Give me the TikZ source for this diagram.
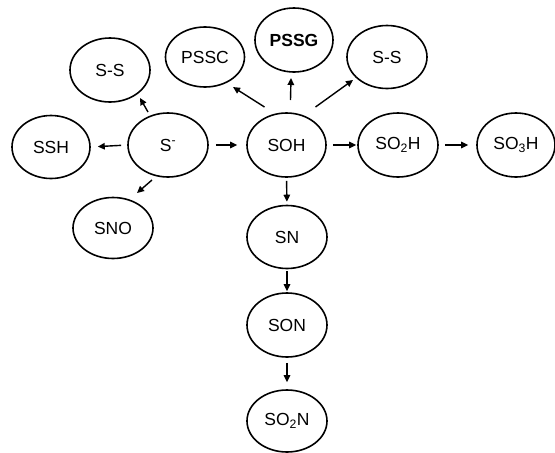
\documentclass[tikz,border=0pt]{standalone}
\usepackage{fontspec}
\setmainfont{Liberation Sans}
\usetikzlibrary{shapes.geometric,arrows.meta}
\begin{document}
\begin{tikzpicture}[x=1pt,y=-1pt,
  state/.style={ellipse,draw,line width=1.6pt,minimum width=80pt,minimum height=64pt,inner sep=0pt,font=\fontsize{17.5}{20}\selectfont},
  arr/.style={-{Triangle[length=7pt,width=6.5pt]},line width=1.4pt}]
\useasboundingbox (0,0) rectangle (555,453);
\node[state,minimum width=80pt,minimum height=64pt] (SS1) at (110,70) {S-S};
\node[state,minimum width=79pt,minimum height=60pt] (PSSC) at (205,57) {PSSC};
\node[state,minimum width=78pt,minimum height=64pt,font=\fontsize{17.5}{20}\selectfont\bfseries] (PSSG) at (294,40) {PSSG};
\node[state,minimum width=80pt,minimum height=63pt] (SS2) at (387,57) {S-S};
\node[state,minimum width=78pt,minimum height=63pt] (SSH) at (51,147) {SSH};
\node[state] (Sm) at (168,145) {S\textsuperscript{-}};
\node[state,minimum width=79pt] (SOH) at (286.5,145) {SOH};
\node[state] (SO2H) at (398,145) {SO\textsubscript{2}H};
\node[state,minimum width=78pt] (SO3H) at (516,145) {SO\textsubscript{3}H};
\node[state,minimum height=61pt] (SNO) at (113,228) {SNO};
\node[state,minimum height=63pt] (SN) at (287,237) {SN};
\node[state] (SON) at (287,325) {SON};
\node[state,minimum height=62pt] (SO2N) at (287,421) {SO\textsubscript{2}N};

\draw[arr] ([shift={(-20,-33)}]Sm.center) -- ([shift={(30,28)}]SS1.center);
\draw[arr,shorten <=6pt,shorten >=7pt] (Sm.west) -- (SSH.east);
\draw[arr,shorten <=7pt,shorten >=9pt] (Sm.east) -- (SOH.west);
\draw[arr] ([shift={(-16,35)}]Sm.center) -- ([shift={(24,-35)}]SNO.center);
\draw[arr] ([shift={(-22,-38)}]SOH.center) -- ([shift={(28,30)}]PSSC.center);
\draw[arr] ([shift={(4,-45)}]SOH.center) -- ([shift={(-3,38)}]PSSG.center);
\draw[arr] ([shift={(29,-38)}]SOH.center) -- ([shift={(-34,23)}]SS2.center);
\draw[arr,shorten <=6pt,shorten >=1pt] (SOH.east) -- (SO2H.west);
\draw[arr,shorten <=6pt,shorten >=8pt] (SO2H.east) -- (SO3H.west);
\draw[arr,shorten <=3pt,shorten >=3pt] (SOH.south) -- (SN.north);
\draw[arr,shorten <=2pt,shorten >=1pt] (SN.south) -- (SON.north);
\draw[arr,shorten <=5pt,shorten >=7pt] (SON.south) -- (SO2N.north);
\end{tikzpicture}
\end{document}
